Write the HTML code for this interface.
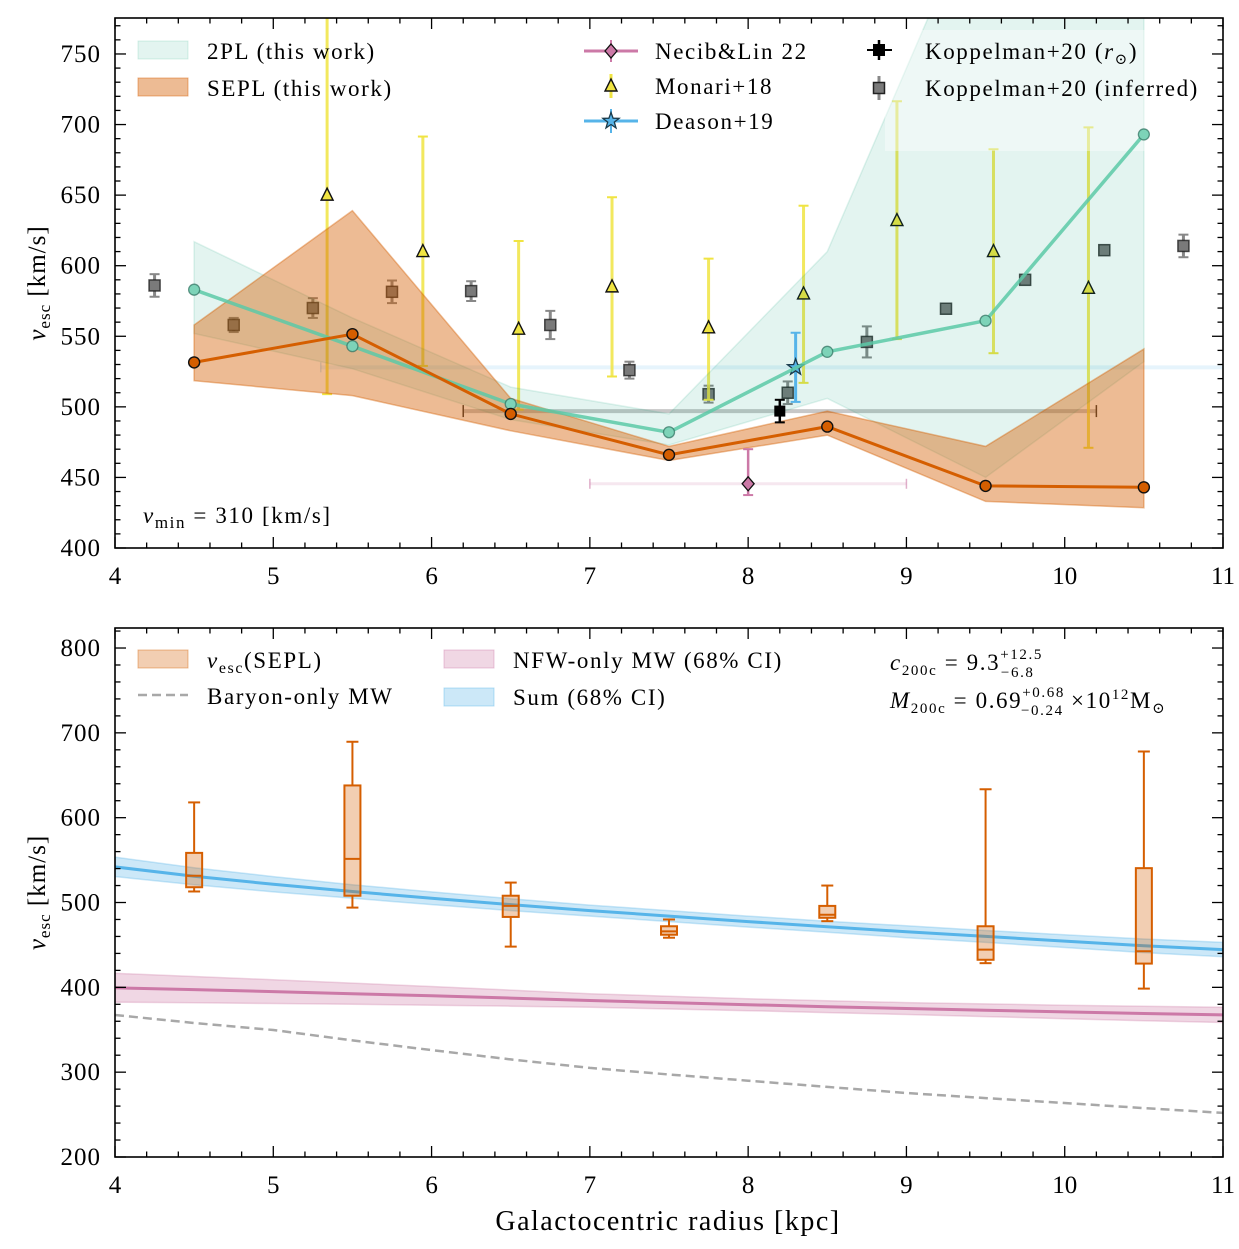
<!DOCTYPE html>
<html><head><meta charset="utf-8">
<style>
html,body{margin:0;padding:0;background:#fff;}
svg{display:block;font-family:"Liberation Serif","DejaVu Serif",serif;}
</style></head>
<body>
<svg id="fig" width="1239" height="1249" viewBox="0 0 1239 1249" xmlns="http://www.w3.org/2000/svg">
<defs>
<clipPath id="clipTop"><rect x="115" y="18" width="1108" height="530"/></clipPath>
<clipPath id="clipBot"><rect x="115" y="628" width="1108" height="529"/></clipPath>
</defs>
<g id="topPanel"></g>
<g id="botPanel"></g>
</svg>
<script>
// ---------- TOP PANEL DATA ----------
const radii = [4.5,5.5,6.5,7.5,8.5,9.5,10.5];
const twoPL = [583,543,502,482,539,561,693];
const twoPLHi = [617,563,514,495,610,870,900];
const twoPLLo = [552,527,491,473,506,450,532];
const sepl = [531.5,551.5,495,466,486,444,443];
const seplHi = [558,639,506,472,497,472,541];
const seplLo = [518.5,508,483,462,480,433,428.5];
const monariR = [5.34,5.945,6.55,7.14,7.75,8.35,8.94,9.55,10.15];
const monariV = [650,610,555,585,556,580,632,610,584];
const monariLo = [509,529,498,521.5,505,517,548,538,471];
const monariHi = [790,691.5,617.5,648.5,605,642.5,716.5,682.5,698];
const koppR = [4.25,4.75,5.25,5.75,6.25,6.75,7.25,7.75,8.25,8.75,9.25,9.75,10.25,10.75];
const koppV = [586,558,570,581.5,582,558,526,509,510,546,569.5,590,611,614];
const koppErr = [8,5,7,8,7,10,6,6,8,11,3,3,3,8];
const koppSunR = [8.2], koppSunV = [497], koppSunErr = [8], koppSunRLo=[6.2], koppSunRHi=[10.2];
const deasonR = [8.3], deasonV = [528], deasonLo = [503.5], deasonHi = [552.5], deasonRLo=[5.3];
const necibR = [8.0], necibV = [445.5], necibLo = [437.5], necibHi = [470], necibRLo=[7.0], necibRHi=[9.0];
const topYTicks = [400,450,500,550,600,650,700,750];
const xTicks = [4,5,6,7,8,9,10,11];
// ---------- BOTTOM PANEL DATA ----------
const boxR = [4.5,5.5,6.5,7.5,8.5,9.5,10.5];
const boxWLo = [513,494,448,458.5,478,428.5,398.5];
const boxQ1 = [518,508,483,462,482,432.5,428];
const boxMed = [531.5,551.5,496,466,485.5,444.5,442.5];
const boxQ3 = [558.5,638,508,472,496,472,540.5];
const boxWHi = [618,689.5,523.5,480,520,633.5,678];
const curveR = [4,4.5,5,5.5,6,6.5,7,7.5,8,8.5,9,9.5,10,10.5,11];
const sumV = [542,531,521.5,513,505,497.5,490.5,484,477.5,471.5,465.5,460,454.5,449,444.5];
const sumHalf = [11.5,10,9,8,7.5,7,6.5,6.5,6.5,6.5,7,7,7.5,8,8.5];
const nfwV = [399.5,397.3,395,392.5,390,387.3,384.5,382,379.5,377.2,375,373,371,369.2,367.5];
const nfwHalf = [17,15.5,14,12.5,11,9.5,8,7.5,7,7,7,7.5,8,8.5,9];
const baryonV = [367.4,358,349.7,337.5,326,315,305,297.2,290,282.6,275.5,269.4,263.6,257.7,252];
const botYTicks = [200,300,400,500,600,700,800];

const NS='http://www.w3.org/2000/svg';
const X = r => 115 + (r-4)*158.286;
const Y1 = v => 548 - (v-400)*1.4115;
const Y2 = v => 1157 - (v-200)*0.8483;
function mk(parent, tag, attrs, text){
  const el=document.createElementNS(NS,tag);
  for(const k in attrs) el.setAttribute(k,attrs[k]);
  if(text!==undefined) el.textContent=text;
  parent.appendChild(el); return el;
}
function poly(xs,ys){return xs.map((x,i)=>X(x).toFixed(1)+','+ys[i].toFixed(1)).join(' ');}

const topG=document.getElementById('topPanel');
const botG=document.getElementById('botPanel');

function axes(g, Yf, y0, y1, vmin, vmax, major, minor, yTicks){
  const tg=mk(g,'g',{stroke:'#000','stroke-width':1.3});
  
  
  for(let i=0;i<=35;i++){
    const r=4+i*0.2;
    const isMaj=(i%5===0);
    const L=isMaj?11:5.5;
    mk(tg,'line',{x1:X(r),x2:X(r),y1:y1,y2:y1-L});
    mk(tg,'line',{x1:X(r),x2:X(r),y1:y0,y2:y0+L});
  }
  for(let v=vmin; v<=vmax+0.001; v+=minor){
    const isMaj=Math.abs(v/major-Math.round(v/major))<1e-6;
    const L=isMaj?11:5.5;
    mk(tg,'line',{x1:115,x2:115+L,y1:Yf(v),y2:Yf(v)});
    mk(tg,'line',{x1:1223,x2:1223-L,y1:Yf(v),y2:Yf(v)});
  }
  const fr=mk(g,'rect',{x:115,y:y0,width:1108,height:y1-y0,fill:'none',stroke:'#000','stroke-width':1.6});
  
  
  yTicks.forEach(v=>{
    const t=mk(g,'text',{x:101,y:Yf(v)+8,'text-anchor':'end','font-size':25,'letter-spacing':1},String(v));
    
    
  });
  xTicks.forEach(r=>{
    const t=mk(g,'text',{x:X(r),y:y1+36,'text-anchor':'middle','font-size':25},String(r));
    
    
  });
  const yl=mk(g,'text',{x:0,y:0,'font-size':25,'letter-spacing':1,transform:`translate(45,${(y0+y1)/2}) rotate(-90)`,'text-anchor':'middle'});
  
  
  yl.innerHTML='<tspan font-style="italic">v</tspan><tspan font-size="17" dy="5">esc</tspan><tspan dy="-5"> [km/s]</tspan>';
}

// ===== TOP =====
const tc=mk(topG,'g',{'clip-path':'url(#clipTop)'});
let el=mk(tc,'line',{x1:X(deasonRLo[0]),x2:1230,y1:Y1(deasonV[0]),y2:Y1(deasonV[0]),stroke:'#56b4e9','stroke-opacity':0.15,'stroke-width':4});


mk(tc,'line',{x1:X(deasonRLo[0]),x2:X(deasonRLo[0]),y1:Y1(deasonV[0])-5,y2:Y1(deasonV[0])+5,stroke:'#56b4e9','stroke-opacity':0.3,'stroke-width':1.5});
el=mk(tc,'line',{x1:X(koppSunRLo[0]),x2:X(koppSunRHi[0]),y1:Y1(koppSunV[0]),y2:Y1(koppSunV[0]),stroke:'#000','stroke-opacity':0.22,'stroke-width':4});


[koppSunRLo[0],koppSunRHi[0]].forEach(r=>mk(tc,'line',{x1:X(r),x2:X(r),y1:Y1(koppSunV[0])-6,y2:Y1(koppSunV[0])+6,stroke:'#333','stroke-width':1.5}));
el=mk(tc,'line',{x1:X(necibRLo[0]),x2:X(necibRHi[0]),y1:Y1(necibV[0]),y2:Y1(necibV[0]),stroke:'#cc79a7','stroke-opacity':0.18,'stroke-width':3});


[necibRLo[0],necibRHi[0]].forEach(r=>mk(tc,'line',{x1:X(r),x2:X(r),y1:Y1(necibV[0])-5,y2:Y1(necibV[0])+5,stroke:'#cc79a7','stroke-opacity':0.6,'stroke-width':1.5}));

koppR.forEach((r,i)=>{
  const g=mk(tc,'g',{});
  
  
  const x=X(r),ylo=Y1(koppV[i]-koppErr[i]),yhi=Y1(koppV[i]+koppErr[i]);
  mk(g,'line',{x1:x,x2:x,y1:ylo,y2:yhi,stroke:'#888','stroke-width':3});
  mk(g,'line',{x1:x-5,x2:x+5,y1:ylo,y2:ylo,stroke:'#888','stroke-width':2});
  mk(g,'line',{x1:x-5,x2:x+5,y1:yhi,y2:yhi,stroke:'#888','stroke-width':2});
  mk(g,'rect',{x:x-5.5,y:Y1(koppV[i])-5.5,width:11,height:11,fill:'#7a7a7a','stroke':'#222','stroke-width':1.5,'stroke-opacity':0.8});
});
monariR.forEach((r,i)=>{
  const g=mk(tc,'g',{});
  
  
  const x=X(r),ylo=Y1(monariLo[i]),yhi=Y1(monariHi[i]),y=Y1(monariV[i]);
  mk(g,'line',{x1:x,x2:x,y1:ylo,y2:yhi,stroke:'#f0e442','stroke-opacity':0.85,'stroke-width':3});
  mk(g,'line',{x1:x-5,x2:x+5,y1:ylo,y2:ylo,stroke:'#f0e442','stroke-width':2});
  mk(g,'line',{x1:x-5,x2:x+5,y1:yhi,y2:yhi,stroke:'#f0e442','stroke-width':2});
  mk(g,'polygon',{points:`${x},${y-7} ${x-6},${y+5} ${x+6},${y+5}`,fill:'#f0e442',stroke:'#111','stroke-width':1.4});
});
el=mk(tc,'polygon',{points:poly(radii,twoPLHi.map(Y1))+' '+poly(radii.slice().reverse(),twoPLLo.slice().reverse().map(Y1)),fill:'#009e73','fill-opacity':0.11,stroke:'#009e73','stroke-opacity':0.12,'stroke-width':1.5});


el=mk(tc,'rect',{x:885,y:30,width:260,height:121,fill:'#fff','fill-opacity':0.4});


el=mk(tc,'polygon',{points:poly(radii,seplHi.map(Y1))+' '+poly(radii.slice().reverse(),seplLo.slice().reverse().map(Y1)),fill:'#d55e00','fill-opacity':0.42,stroke:'#d55e00','stroke-opacity':0.4,'stroke-width':1.5});


function starPts(x,y){let pts=[];for(let k=0;k<10;k++){const a=-Math.PI/2+k*Math.PI/5,rr=k%2?3.5:8.5;pts.push((x+rr*Math.cos(a)).toFixed(1)+','+(y+rr*Math.sin(a)).toFixed(1));}return pts.join(' ');}
{
  const g=mk(tc,'g',{});
  
  
  const x=X(deasonR[0]);
  mk(g,'line',{x1:x,x2:x,y1:Y1(deasonLo[0]),y2:Y1(deasonHi[0]),stroke:'#56b4e9','stroke-width':3});
  [deasonLo[0],deasonHi[0]].forEach(v=>mk(g,'line',{x1:x-5,x2:x+5,y1:Y1(v),y2:Y1(v),stroke:'#56b4e9','stroke-width':2}));
  mk(g,'polygon',{points:starPts(x,Y1(deasonV[0])),fill:'#56b4e9',stroke:'#1a3a4a','stroke-width':1.3});
}
{
  const g=mk(tc,'g',{});
  
  
  const x=X(koppSunR[0]),y=Y1(koppSunV[0]);
  const a=Y1(koppSunV[0]-koppSunErr[0]),b=Y1(koppSunV[0]+koppSunErr[0]);
  mk(g,'line',{x1:x,x2:x,y1:a,y2:b,stroke:'#000','stroke-width':2.5});
  mk(g,'line',{x1:x-5,x2:x+5,y1:a,y2:a,stroke:'#000','stroke-width':2});
  mk(g,'line',{x1:x-5,x2:x+5,y1:b,y2:b,stroke:'#000','stroke-width':2});
  mk(g,'rect',{x:x-5.5,y:y-5.5,width:11,height:11,fill:'#000'});
}
{
  const g=mk(tc,'g',{});
  
  
  const x=X(necibR[0]),y=Y1(necibV[0]);
  mk(g,'line',{x1:x,x2:x,y1:Y1(necibLo[0]),y2:Y1(necibHi[0]),stroke:'#cc79a7','stroke-width':2.5});
  [necibLo[0],necibHi[0]].forEach(v=>mk(g,'line',{x1:x-5,x2:x+5,y1:Y1(v),y2:Y1(v),stroke:'#cc79a7','stroke-width':2}));
  mk(g,'polygon',{points:`${x},${y-7} ${x+6},${y} ${x},${y+7} ${x-6},${y}`,fill:'#cc79a7',stroke:'#111','stroke-width':1.3});
}
el=mk(tc,'polyline',{points:poly(radii,twoPL.map(Y1)),fill:'none',stroke:'#5cc9a7','stroke-width':3.5,'stroke-opacity':0.85});


radii.forEach((r,i)=>{
  const c=mk(tc,'circle',{cx:X(r),cy:Y1(twoPL[i]),r:5.5,fill:'#7dd3b8',stroke:'#2f6f5e','stroke-width':1.3,'stroke-opacity':0.7});
  
  
});
el=mk(tc,'polyline',{points:poly(radii,sepl.map(Y1)),fill:'none',stroke:'#d55e00','stroke-width':3});


radii.forEach((r,i)=>{
  const c=mk(tc,'circle',{cx:X(r),cy:Y1(sepl[i]),r:5.5,fill:'#d55e00',stroke:'#111','stroke-width':1.4});
  
  
});

axes(topG,Y1,18,548,400,770,50,10,topYTicks);

function ltext(g,x,y,html,name){
  const t=mk(g,'text',{x:x,y:y,'font-size':23,'letter-spacing':1.6});
  t.innerHTML=html;
  
  
  return t;
}
{
  const g=mk(topG,'g',{});
  
  
  mk(g,'rect',{x:138,y:41,width:50,height:18,fill:'#009e73','fill-opacity':0.11,stroke:'#009e73','stroke-opacity':0.15});
  ltext(g,207,59,'2PL (this work)','legend-2pl');
  mk(g,'rect',{x:138,y:78,width:50,height:18,fill:'#d55e00','fill-opacity':0.42,stroke:'#d55e00','stroke-opacity':0.45});
  ltext(g,207,96,'SEPL (this work)','legend-sepl');
}
{
  const g=mk(topG,'g',{});
  
  
  let x=611,y=51;
  mk(g,'line',{x1:584,x2:638,y1:y,y2:y,stroke:'#cc79a7','stroke-width':3});
  mk(g,'line',{x1:x,x2:x,y1:y-11,y2:y+11,stroke:'#cc79a7','stroke-width':2});
  mk(g,'polygon',{points:`${x},${y-7} ${x+6},${y} ${x},${y+7} ${x-6},${y}`,fill:'#cc79a7',stroke:'#111','stroke-width':1.3});
  ltext(g,655,59,'Necib&amp;Lin 22','legend-necib');
  y=86;
  mk(g,'line',{x1:x,x2:x,y1:y-12,y2:y+12,stroke:'#f0e442','stroke-width':3});
  mk(g,'polygon',{points:`${x},${y-7} ${x-6},${y+5} ${x+6},${y+5}`,fill:'#f0e442',stroke:'#111','stroke-width':1.4});
  ltext(g,655,94,'Monari+18','legend-monari');
  y=121;
  mk(g,'line',{x1:584,x2:638,y1:y,y2:y,stroke:'#56b4e9','stroke-width':3});
  mk(g,'line',{x1:x,x2:x,y1:y-12,y2:y+12,stroke:'#56b4e9','stroke-width':2});
  mk(g,'polygon',{points:starPts(x,y),fill:'#56b4e9',stroke:'#1a3a4a','stroke-width':1.3});
  ltext(g,655,129,'Deason+19','legend-deason');
  x=879;y=50;
  mk(g,'line',{x1:867,x2:892,y1:y,y2:y,stroke:'#000','stroke-width':2});
  mk(g,'line',{x1:x,x2:x,y1:y-10,y2:y+10,stroke:'#000','stroke-width':2.5});
  mk(g,'rect',{x:x-6,y:y-6,width:12,height:12,fill:'#000'});
  ltext(g,925,59,'Koppelman+20 (<tspan font-style="italic">r</tspan><tspan font-size="15" dy="5">⊙</tspan><tspan dy="-5">)</tspan>','legend-koppelman-sun');
  y=88;
  mk(g,'line',{x1:x,x2:x,y1:y-12,y2:y+12,stroke:'#888','stroke-width':3});
  mk(g,'rect',{x:x-5.5,y:y-5.5,width:11,height:11,fill:'#7a7a7a',stroke:'#222','stroke-width':1.5});
  ltext(g,925,96,'Koppelman+20 (inferred)','legend-koppelman-inferred');
}
ltext(topG,143,523,'<tspan font-style="italic">v</tspan><tspan font-size="17" dy="5">min</tspan><tspan dy="-5"> = 310 [km/s]</tspan>','vmin-annotation');

// ===== BOTTOM =====
const bc=mk(botG,'g',{'clip-path':'url(#clipBot)'});
function band(g,vals,half,color,op,name){
  const hi=vals.map((v,i)=>Y2(v+half[i])), lo=vals.map((v,i)=>Y2(v-half[i]));
  const p=mk(g,'polygon',{points:poly(curveR,hi)+' '+poly(curveR.slice().reverse(),lo.slice().reverse()),fill:color,'fill-opacity':op,stroke:color,'stroke-opacity':0.3,'stroke-width':1.5});
  
  
  const l=mk(g,'polyline',{points:poly(curveR,vals.map(Y2)),fill:'none',stroke:color,'stroke-width':3});
  
  
}
band(bc,nfwV,nfwHalf,'#cc79a7',0.3,'nfw');
band(bc,sumV,sumHalf,'#56b4e9',0.3,'sum');
el=mk(bc,'polyline',{points:poly(curveR,baryonV.map(Y2)),fill:'none',stroke:'#a8a8a8','stroke-width':2.5,'stroke-dasharray':'9,5'});


boxR.forEach((r,i)=>{
  const g=mk(bc,'g',{stroke:'#d55e00','stroke-width':2,fill:'none'});
  
  
  const x=X(r);
  mk(g,'line',{x1:x,x2:x,y1:Y2(boxWHi[i]),y2:Y2(boxQ3[i])});
  mk(g,'line',{x1:x,x2:x,y1:Y2(boxQ1[i]),y2:Y2(boxWLo[i])});
  mk(g,'line',{x1:x-6,x2:x+6,y1:Y2(boxWHi[i]),y2:Y2(boxWHi[i])});
  mk(g,'line',{x1:x-6,x2:x+6,y1:Y2(boxWLo[i]),y2:Y2(boxWLo[i])});
  mk(g,'rect',{x:x-8,y:Y2(boxQ3[i]),width:16,height:Y2(boxQ1[i])-Y2(boxQ3[i]),fill:'#d55e00','fill-opacity':0.3});
  mk(g,'line',{x1:x-8,x2:x+8,y1:Y2(boxMed[i]),y2:Y2(boxMed[i])});
});
axes(botG,Y2,628,1157,200,820,100,20,botYTicks);
{
  const g=mk(botG,'g',{});
  
  
  mk(g,'rect',{x:138,y:650,width:50,height:18,fill:'#d55e00','fill-opacity':0.3,stroke:'#d55e00','stroke-opacity':0.4});
  ltext(g,207,668,'<tspan font-style="italic">v</tspan><tspan font-size="16" dy="5">esc</tspan><tspan dy="-5">(SEPL)</tspan>','legend-vesc-sepl');
  mk(g,'line',{x1:138,x2:188,y1:695,y2:695,stroke:'#a8a8a8','stroke-width':2.5,'stroke-dasharray':'9,5'});
  ltext(g,207,704,'Baryon-only MW','legend-baryon');
  mk(g,'rect',{x:444,y:650,width:50,height:18,fill:'#cc79a7','fill-opacity':0.3,stroke:'#cc79a7','stroke-opacity':0.4});
  ltext(g,513,668,'NFW-only MW (68% CI)','legend-nfw');
  mk(g,'rect',{x:444,y:688,width:50,height:18,fill:'#56b4e9','fill-opacity':0.3,stroke:'#56b4e9','stroke-opacity':0.4});
  ltext(g,513,705,'Sum (68% CI)','legend-sum');
}
ltext(botG,890,670,'<tspan font-style="italic">c</tspan><tspan font-size="15" dy="5">200c</tspan><tspan dy="-5"> = 9.3</tspan><tspan font-size="15" dy="-11">+12.5</tspan><tspan font-size="15" dx="-42" dy="18">−6.8</tspan>','c200c-annotation');
ltext(botG,890,708,'<tspan font-style="italic">M</tspan><tspan font-size="15" dy="5">200c</tspan><tspan dy="-5"> = 0.69</tspan><tspan font-size="15" dy="-11">+0.68</tspan><tspan font-size="15" dx="-44" dy="18">−0.24</tspan><tspan dy="-7"> ×10</tspan><tspan font-size="15" dy="-9">12</tspan><tspan dy="9">M</tspan><tspan font-size="15" dy="5">⊙</tspan>','m200c-annotation');
{
  const t=mk(botG,'text',{x:668,y:1230,'text-anchor':'middle','font-size':28,'letter-spacing':1.5},'Galactocentric radius [kpc]');
  
  
}
</script>
</body></html>
